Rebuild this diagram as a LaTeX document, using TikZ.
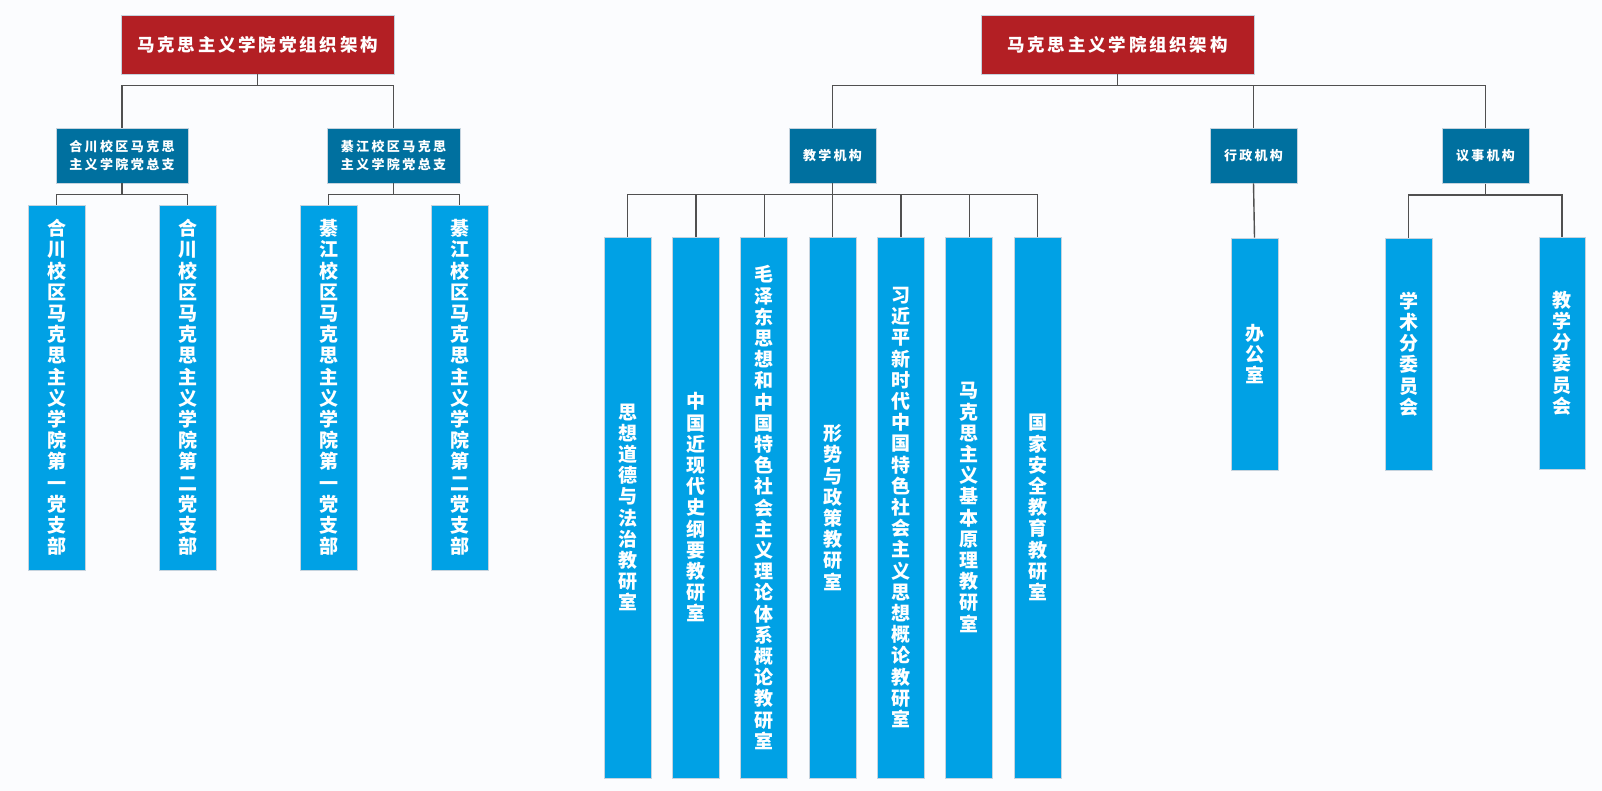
\documentclass[tikz,border=0pt]{standalone}
\usepackage{fontspec}
\newfontfamily\cjk{Noto Sans CJK SC}
\definecolor{bgc}{HTML}{FBFCFE}
\definecolor{redbox}{HTML}{B31F24}
\definecolor{midbox}{HTML}{00709F}
\definecolor{leafbox}{HTML}{00A1E5}
\definecolor{edgec}{HTML}{C5D3DE}
\definecolor{connc}{HTML}{505050}
% vertical text: one character per line
\def\vtgob#1{}
\def\vtone#1{#1}
\def\vtrest#1{\ifx#1\relax\expandafter\vtgob\else\expandafter\vtone\fi{\\#1\vtrest}}
\def\vfirst#1{#1\vtrest}
\newcommand\vtxt[1]{\vfirst#1\relax}
\newcommand\vtxtx[1]{\expandafter\vfirst#1\relax}
% letter spaced text
\def\lspB#1{\ifx#1\relax\expandafter\vtgob\else\expandafter\vtone\fi{\kern\lspk#1\lspB}}
\def\lspA#1{#1\lspB}
\newcommand\lsp[2]{\def\lspk{#1}\lspA#2\relax}
\begin{document}
\begin{tikzpicture}[x=1pt,y=-1pt,
  boxbase/.style={rectangle,inner sep=0pt,draw=edgec,line width=0.7pt,text=white,align=center},
  topbox/.style={boxbase,fill=redbox,minimum width=273pt,minimum height=59pt,
     font={\cjk\bfseries\fontsize{17.5}{20}\selectfont}},
  midnode/.style={boxbase,fill=midbox,minimum height=55pt,
     font={\cjk\bfseries\fontsize{13}{18}\selectfont}},
  leafnode/.style={boxbase,fill=leafbox,
     font={\cjk\bfseries\fontsize{19}{21.2}\selectfont}},
  conn/.style={draw=connc,line width=1.4pt}]
\fill[bgc] (0,0) rectangle (1602,791);
\useasboundingbox (0,0) rectangle (1602,791);

% ---------- left tree ----------
\node[topbox] (r1) at (257.5,44.5) {\lsp{2.8pt}{马克思主义学院党组织架构}};
\node[midnode,minimum width=132pt] (s1) at (122,155.5) {\lsp{2.4pt}{合川校区马克思}\\\lsp{2.4pt}{主义学院党总支}};
\node[midnode,minimum width=133pt] (s2) at (393.5,155.5) {\lsp{2.4pt}{綦江校区马克思}\\\lsp{2.4pt}{主义学院党总支}};
\foreach \n/\x/\t in {l1/56.5/合川校区马克思主义学院第一党支部,
                      l2/187.5/合川校区马克思主义学院第二党支部,
                      l3/328.5/綦江校区马克思主义学院第一党支部,
                      l4/459.5/綦江校区马克思主义学院第二党支部}
  \node[leafnode,minimum width=57pt,minimum height=365pt] (\n) at (\x,387.5) {\vtxtx{\t}};

\draw[conn] (r1.south) -- ++(0,11) -| (s1.north);
\draw[conn] (r1.south) -- ++(0,11) -| (s2.north);
\draw[conn] (s1.south) -- ++(0,11) -| (l1.north);
\draw[conn] (s1.south) -- ++(0,11) -| (l2.north);
\draw[conn] (s2.south) -- ++(0,11) -| (l3.north);
\draw[conn] (s2.south) -- ++(0,11) -| (l4.north);

% ---------- right tree ----------
\node[topbox] (r2) at (1117.5,44.5) {\lsp{2.8pt}{马克思主义学院组织架构}};
\node[midnode,minimum width=87pt] (tj) at (832.5,155.5) {\lsp{2.3pt}{教学机构}};
\node[midnode,minimum width=87pt] (xz) at (1253.5,155.5) {\lsp{2.3pt}{行政机构}};
\node[midnode,minimum width=87pt] (ys) at (1485.5,156) {\lsp{2.3pt}{议事机构}};

\foreach \n/\x/\t in {t1/627.5/思想道德与法治教研室,
                      t2/695.8/中国近现代史纲要教研室,
                      t3/764.2/毛泽东思想和中国特色社会主义理论体系概论教研室,
                      t4/832.5/形势与政策教研室,
                      t5/900.8/习近平新时代中国特色社会主义思想概论教研室,
                      t6/969.2/马克思主义基本原理教研室,
                      t7/1037.5/国家安全教育教研室}
  \node[leafnode,minimum width=47pt,minimum height=541pt] (\n) at (\x,507.5) {\vtxtx{\t}};

\node[leafnode,minimum width=47pt,minimum height=232pt] (bg) at (1254.5,354) {\vtxt{办公室}};
\node[leafnode,minimum width=47pt,minimum height=232pt] (xs) at (1408.5,354) {\vtxt{学术分委员会}};
\node[leafnode,minimum width=46pt,minimum height=232pt] (jx) at (1562,353) {\vtxt{教学分委员会}};

\draw[conn] (r2.south) -- ++(0,11) -| (tj.north);
\draw[conn] (r2.south) -- ++(0,11) -| (xz.north);
\draw[conn] (r2.south) -- ++(0,11) -| (ys.north);
\foreach \n in {t1,t2,t3,t4,t5,t6,t7}
  \draw[conn] (tj.south) -- ++(0,11) -| (\n.north);
\draw[conn] (xz.south) -- (bg.north);
\draw[conn] (ys.south) -- ++(0,11) -| (xs.north);
\draw[conn] (ys.south) -- ++(0,11) -| (jx.north);
\end{tikzpicture}
\end{document}
